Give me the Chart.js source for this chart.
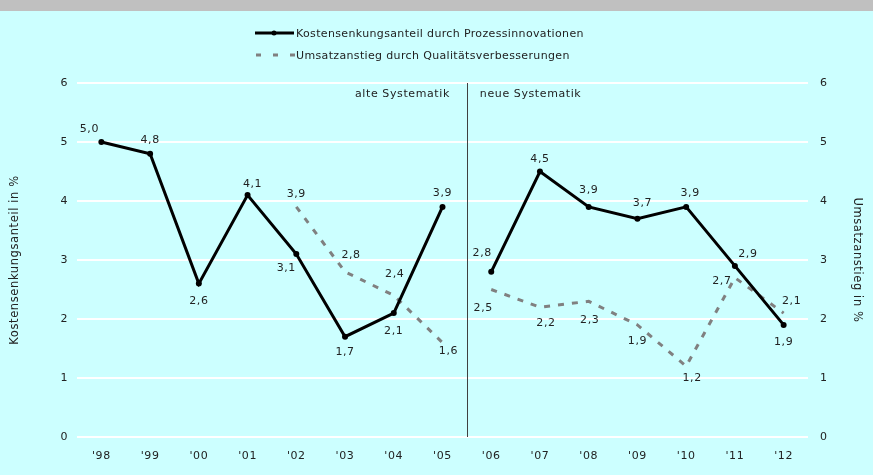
<!DOCTYPE html>
<html lang="de">
<head>
  <meta charset="UTF-8" />
  <title>Kostensenkung und Umsatzanstieg durch Innovationen</title>
  <script src="https://cdn.jsdelivr.net/npm/chart.js"></script>
  <style>
    html, body {
      margin: 0;
      padding: 0;
      background: #ccffff;
      overflow: hidden;
    }
    #band {
      position: absolute;
      left: 0; top: 0;
      width: 873px; height: 11px;
      background: #c0c0c0;
    }
    #wrap {
      position: absolute;
      left: 0; top: 0;
      width: 873px; height: 475px;
    }
  </style>
</head>
<body>
  <div id="band"></div>
  <div id="wrap"><canvas id="chart"></canvas></div>

  <script>
    // Jahre (Kategorien)
    const years = ["'98", "'99", "'00", "'01", "'02", "'03", "'04", "'05",
                   "'06", "'07", "'08", "'09", "'10", "'11", "'12"];

    // Kostensenkungsanteil durch Prozessinnovationen (linke Achse, %)
    const kosten = [5.0, 4.8, 2.6, 4.1, 3.1, 1.7, 2.1, 3.9,
                    2.8, 4.5, 3.9, 3.7, 3.9, 2.9, 1.9];

    // Umsatzanstieg durch Qualitätsverbesserungen (rechte Achse, %)
    const umsatz = [null, null, null, null, 3.9, 2.8, 2.4, 1.6,
                    2.5, 2.2, 2.3, 1.9, 1.2, 2.7, 2.1];

    const yTicks = [0, 1, 2, 3, 4, 5, 6];

    // Bruch zwischen alter und neuer Systematik (nach diesem Index)
    const breakAfter = 7;

    // Lage der Wertbeschriftungen relativ zum Punkt [dx, dy]
    const kostenLabelPos = [[-12,-13],[0,-14],[0,18],[5,-11],[-10,14],[0,15],[0,18],[0,-14],
                            [-9,-19],[0,-12],[0,-17],[5,-16],[4,-14],[13,-12],[0,17]];
    const umsatzLabelPos = [null,null,null,null,[0,-13],[6,-17],[1,-21],[6,9],
                            [-8,19],[6,16],[1,19],[0,16],[6,12],[-13,3],[8,-12]];

    const tickFont = { family: 'DejaVu Sans', size: 11 };
    const fmt = v => v.toFixed(1).replace('.', ',');

    const hideBreak = color => ctx =>
      ctx.p0DataIndex === breakAfter ? 'rgba(0,0,0,0)' : color;

    // etwas gesperrte Schrift wie im Original
    const spacing = {
      id: 'spacing',
      beforeDraw(chart) { chart.ctx.letterSpacing = '0.6px'; }
    };

    // Trennlinie, Beschriftungen und Legende
    const extras = {
      id: 'extras',
      afterDatasetsDraw(chart) {
        const c = chart.ctx;
        const x = chart.scales.x;
        const area = chart.chartArea;

        // senkrechte Trennlinie
        const xs = (x.getPixelForValue(breakAfter) + x.getPixelForValue(breakAfter + 1)) / 2;
        c.save();
        c.strokeStyle = '#404040';
        c.lineWidth = 1;
        c.beginPath();
        c.moveTo(Math.round(xs) + 0.5, area.top);
        c.lineTo(Math.round(xs) + 0.5, area.bottom);
        c.stroke();

        c.fillStyle = '#222';
        c.font = '11px "DejaVu Sans"';
        c.textBaseline = 'middle';
        c.textAlign = 'right';
        c.fillText('alte Systematik', xs - 17, area.top + 11);
        c.textAlign = 'left';
        c.fillText('neue Systematik', xs + 13, area.top + 11);

        // Wertbeschriftungen
        c.textAlign = 'center';
        [[0, kostenLabelPos], [1, umsatzLabelPos]].forEach(([di, pos]) => {
          const meta = chart.getDatasetMeta(di);
          const data = chart.data.datasets[di].data;
          meta.data.forEach((pt, i) => {
            if (data[i] == null || !pos[i]) return;
            c.fillText(fmt(data[i]), pt.x + pos[i][0], pt.y + pos[i][1]);
          });
        });

        // Legende
        c.font = '11px "DejaVu Sans"';
        c.letterSpacing = '0.35px';
        c.textAlign = 'left';
        c.strokeStyle = '#000';
        c.lineWidth = 3;
        c.beginPath();
        c.moveTo(255, 33);
        c.lineTo(294, 33);
        c.stroke();
        c.fillStyle = '#000';
        c.beginPath();
        c.arc(274, 33, 2.5, 0, Math.PI * 2);
        c.fill();
        c.fillStyle = '#222';
        c.fillText(chart.data.datasets[0].label, 296, 34);

        c.strokeStyle = '#808080';
        c.setLineDash([5, 12]);
        c.beginPath();
        c.moveTo(256, 55);
        c.lineTo(296, 55);
        c.stroke();
        c.setLineDash([]);
        c.fillText(chart.data.datasets[1].label, 296, 56);
        c.restore();
      }
    };

    new Chart(document.getElementById('chart'), {
      type: 'line',
      data: {
        labels: years,
        datasets: [{
          label: 'Kostensenkungsanteil durch Prozessinnovationen',
          data: kosten,
          yAxisID: 'y',
          borderColor: '#000',
          backgroundColor: '#000',
          borderWidth: 3,
          pointRadius: 3,
          pointBackgroundColor: '#000',
          pointBorderWidth: 0,
          tension: 0,
          fill: false,
          segment: { borderColor: hideBreak('#000') },
          order: 0
        }, {
          label: 'Umsatzanstieg durch Qualitätsverbesserungen',
          data: umsatz,
          yAxisID: 'y2',
          borderColor: '#808080',
          borderWidth: 3,
          borderDash: [6, 8],
          pointRadius: 0,
          tension: 0,
          fill: false,
          spanGaps: false,
          segment: { borderColor: hideBreak('#808080') },
          order: 1
        }]
      },
      options: {
        responsive: true,
        maintainAspectRatio: false,
        animation: false,
        events: [],
        layout: { padding: { top: 83, left: 0, right: 0, bottom: 0 } },
        plugins: {
          legend: { display: false },
          tooltip: { enabled: false }
        },
        scales: {
          x: {
            offset: true,
            grid: { display: false },
            border: { display: false },
            ticks: { color: '#222', font: tickFont, padding: 5, maxRotation: 0 },
            afterFit: s => { s.height = 38; }
          },
          y: {
            position: 'left',
            min: 0, max: 6,
            afterBuildTicks: s => { s.ticks = yTicks.map(v => ({ value: v })); },
            grid: { color: '#ffffff', lineWidth: 2, drawTicks: false },
            border: { display: false },
            ticks: { color: '#222', font: tickFont, padding: 9 },
            title: {
              display: true,
              text: 'Kostensenkungsanteil in %',
              color: '#222',
              font: { family: 'DejaVu Sans', size: 11.5 },
              padding: { top: 8, bottom: 0 }
            },
            afterFit: s => { s.width = 77; }
          },
          y2: {
            position: 'right',
            min: 0, max: 6,
            afterBuildTicks: s => { s.ticks = yTicks.map(v => ({ value: v })); },
            grid: { display: false, drawTicks: false },
            border: { display: false },
            ticks: { color: '#222', font: tickFont, padding: 12 },
            title: {
              display: true,
              text: 'Umsatzanstieg in %',
              color: '#222',
              font: { family: 'DejaVu Sans', size: 11.5 },
              padding: { top: 9, bottom: 0 }
            },
            afterFit: s => { s.width = 65; }
          }
        }
      },
      plugins: [spacing, extras]
    });
  </script>
</body>
</html>
